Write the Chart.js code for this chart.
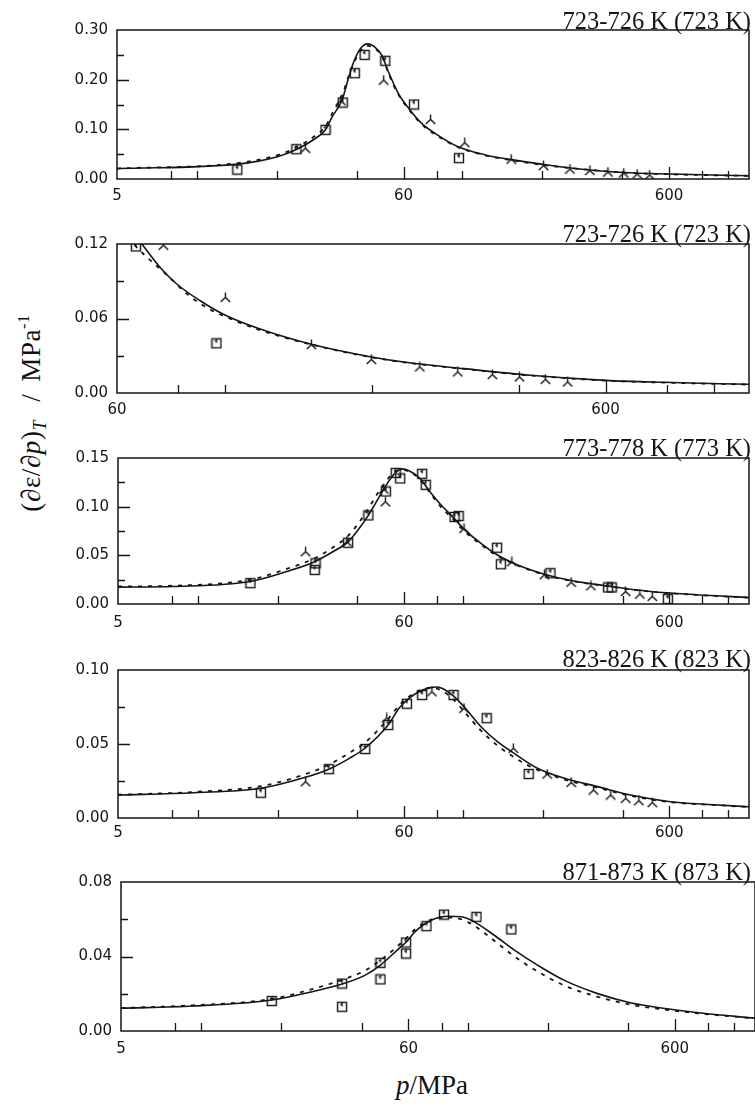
<!DOCTYPE html>
<html>
<head>
<meta charset="utf-8">
<script src="https://cdn.jsdelivr.net/npm/chart.js@4.4.1/dist/chart.umd.min.js"></script>
<style>
  html, body { margin: 0; padding: 0; background: #fff; width: 755px; height: 1107px; overflow: hidden; }
  body { position: relative; }
  canvas { position: absolute; left: 0; }
  #yTitle {
    position: absolute; left: 33px; top: 413px;
    transform: translate(-50%, -50%) rotate(-90deg);
    font: 27px "Liberation Serif", serif; color: #111; white-space: nowrap; letter-spacing: 0.6px;
  }
  #yTitle sub { font-size: 18px; vertical-align: -6px; }
  #yTitle sup { font-size: 16px; vertical-align: 11px; }
  #yTitle .slash { margin: 0 12px 0 18px; }
  #xTitle {
    position: absolute; left: 432px; top: 1085px;
    transform: translate(-50%, -50%);
    font: 27px "Liberation Serif", serif; color: #111; white-space: nowrap;
  }
</style>
</head>
<body>
<div id="yTitle">(∂ε/∂<i>p</i>)<sub><i>T</i></sub><span class="slash">/</span>MPa<sup>-1</sup></div>
<div id="xTitle"><i>p</i>/MPa</div>
<script>
// [p / MPa, (de/dp)_T / MPa^-1]
const p1Squares = [[14.2, 0.019], [23.7, 0.060], [30.5, 0.099], [35.4, 0.154], [39.3, 0.213], [42.8, 0.250], [51.2, 0.238], [65.7, 0.150], [97, 0.042]];
const p1Tris = [[25.6, 0.062], [34.8, 0.158], [50.5, 0.199], [75.8, 0.120], [102, 0.073], [152.6, 0.040], [202, 0.027], [254, 0.020], [302, 0.017], [353, 0.014], [405, 0.012], [455, 0.010], [507, 0.008]];
const p1Solid = [[5, 0.021], [14.2, 0.030], [20.1, 0.045], [23.8, 0.060], [28, 0.082], [30.5, 0.099], [32.3, 0.125], [35.2, 0.159], [37.3, 0.205], [38.9, 0.235], [41.2, 0.262], [44, 0.272], [46.9, 0.265], [49.7, 0.249], [52.7, 0.215], [57.4, 0.172], [62.6, 0.143], [70.2, 0.112], [78.8, 0.092], [96.3, 0.065], [121, 0.049], [152.6, 0.039], [203, 0.029], [256, 0.022], [405, 0.013], [606, 0.010], [1200, 0.0066]];
const p1Dashed = [[5, 0.021], [14.2, 0.032], [20.1, 0.048], [23.8, 0.064], [28, 0.088], [30.5, 0.106], [32.3, 0.132], [35.2, 0.168], [37.3, 0.208], [39.5, 0.240], [41.5, 0.260], [44, 0.268], [47, 0.262], [50, 0.245], [52.7, 0.212], [57.4, 0.170], [62.6, 0.141], [70.2, 0.110], [78.8, 0.090], [96.3, 0.064], [121, 0.048], [152.6, 0.038], [203, 0.028], [256, 0.022], [405, 0.013], [606, 0.0095], [1200, 0.0063]];

const p2Squares = [[65.6, 0.118], [95.9, 0.040]];
const p2Tris = [[74.7, 0.119], [100, 0.077], [150, 0.039], [199, 0.027], [250, 0.021], [299, 0.017], [352, 0.0148], [400, 0.0129], [452, 0.011], [502, 0.0089]];
const p2Solid = [[63, 0.133], [67.4, 0.120], [73.4, 0.1015], [79.4, 0.088], [88.5, 0.0747], [100, 0.0626], [117, 0.0519], [150, 0.0392], [199, 0.029], [236, 0.0245], [308, 0.0196], [421, 0.0143], [600, 0.0102], [786, 0.0086], [1180, 0.007]];
const p2Dashed = [[63, 0.125], [68.4, 0.111], [75.9, 0.095], [83.9, 0.079], [92.3, 0.068], [100, 0.0615], [117, 0.051], [150, 0.039], [199, 0.0288], [236, 0.0243], [308, 0.0194], [421, 0.0141], [600, 0.0100], [786, 0.0084], [1180, 0.0068]];

const p3Squares = [[15.8, 0.0214], [27.8, 0.0418], [27.6, 0.035], [36.9, 0.0629], [44, 0.091], [51.2, 0.1156], [55.8, 0.1347], [58, 0.129], [70.2, 0.1337], [72.4, 0.1224], [93, 0.0894], [96.3, 0.0904], [134.5, 0.0578], [139, 0.0408], [214, 0.0316], [353, 0.017], [364, 0.017], [593, 0.0051]];
const p3Tris = [[25.5, 0.0537], [36.5, 0.064], [51, 0.105], [50.3, 0.118], [101, 0.0775], [153, 0.0435], [203, 0.030], [256, 0.0224], [304, 0.0187], [411, 0.0129], [465, 0.0102], [518, 0.0078]];
const p3Solid = [[5, 0.0173], [8.1, 0.018], [15.8, 0.0231], [21.6, 0.0333], [27.6, 0.0435], [32.3, 0.0537], [36.9, 0.0639], [40.6, 0.0776], [44, 0.0911], [48.3, 0.1098], [52.7, 0.1268], [55.8, 0.1353], [59, 0.1388], [62.6, 0.137], [68.3, 0.130], [74.8, 0.116], [81.3, 0.104], [91.1, 0.090], [101, 0.077], [117, 0.0622], [135, 0.0503], [161, 0.0401], [203, 0.0306], [256, 0.0241], [340, 0.019], [510, 0.0129], [763, 0.0095], [1200, 0.0067]];
const p3Dashed = [[5, 0.018], [8.1, 0.0188], [15.8, 0.025], [21.6, 0.036], [27.6, 0.047], [32.3, 0.058], [36.9, 0.070], [40.6, 0.084], [44, 0.098], [48.3, 0.116], [52.7, 0.130], [55.8, 0.136], [59, 0.138], [62.6, 0.136], [68.3, 0.129], [74.8, 0.115], [81.3, 0.102], [91.1, 0.088], [101, 0.075], [117, 0.061], [135, 0.0495], [161, 0.0395], [203, 0.030], [256, 0.0238], [340, 0.0188], [510, 0.0127], [763, 0.0093], [1200, 0.0065]];

const p4Squares = [[17.3, 0.0171], [31.2, 0.033], [42.8, 0.0466], [52.3, 0.0628], [61.5, 0.0772], [70.2, 0.0831], [92.2, 0.0831], [122.9, 0.0674], [177, 0.0297]];
const p4Tris = [[25.5, 0.0245], [51.6, 0.0676], [76.4, 0.0853], [101, 0.0741], [155, 0.0471], [208, 0.0297], [256, 0.024], [311, 0.0189], [361, 0.0155], [411, 0.0133], [461, 0.0117], [518, 0.0104]];
const p4Solid = [[5, 0.0155], [9.65, 0.0171], [17.3, 0.0201], [24.9, 0.027], [31.2, 0.033], [37.3, 0.0403], [42.8, 0.0473], [52.3, 0.063], [57.4, 0.0741], [62.6, 0.0809], [68.3, 0.0853], [75.6, 0.0881], [79, 0.0885], [83.3, 0.0877], [92.2, 0.0824], [101, 0.0752], [117, 0.0617], [135, 0.0516], [156, 0.0437], [191, 0.0336], [241.6, 0.0268], [322, 0.0212], [429, 0.0155], [606, 0.0110], [881, 0.009], [1200, 0.0076]];
const p4Dashed = [[5, 0.0157], [9.65, 0.0176], [17.3, 0.0215], [24.9, 0.029], [31.2, 0.036], [37.3, 0.044], [42.8, 0.051], [52.3, 0.067], [57.4, 0.076], [62.6, 0.082], [68.3, 0.086], [75.6, 0.088], [83.3, 0.086], [92.2, 0.080], [101, 0.072], [117, 0.059], [135, 0.049], [156, 0.041], [191, 0.0325], [241.6, 0.026], [322, 0.0205], [429, 0.015], [606, 0.0107], [881, 0.0088], [1200, 0.0074]];

const p5Squares = [[18.4, 0.0161], [33.8, 0.0255], [33.8, 0.013], [47.1, 0.0366], [47.1, 0.0277], [58.8, 0.0475], [58.8, 0.0416], [70.1, 0.0563], [81.6, 0.0625], [108, 0.0613], [146, 0.0545]];
const p5Tris = [];
const p5Solid = [[5, 0.0122], [9.3, 0.0134], [18.4, 0.0166], [26.1, 0.0211], [33.8, 0.0252], [41.3, 0.030], [47.1, 0.0354], [55, 0.044], [59, 0.0479], [63.4, 0.0532], [73.1, 0.0595], [84.5, 0.0616], [94.7, 0.0613], [106, 0.0586], [126, 0.0514], [150, 0.0434], [183, 0.0354], [230, 0.0273], [306, 0.0202], [408, 0.0152], [543, 0.0122], [766, 0.0095], [1200, 0.0069]];
const p5Dashed = [[5, 0.0123], [9.3, 0.0138], [18.4, 0.0172], [26.1, 0.0225], [33.8, 0.0275], [41.3, 0.0325], [47.1, 0.038], [53.6, 0.0445], [59, 0.050], [63.4, 0.0545], [73.1, 0.0598], [84.5, 0.0610], [94.7, 0.0600], [106, 0.0565], [126, 0.0485], [150, 0.040], [183, 0.032], [230, 0.0245], [306, 0.0185], [408, 0.0142], [543, 0.0116], [766, 0.0092], [1200, 0.0068]];

// axis ticks
const xTicksWide = [5, 8, 10, 20, 40, 60, 80, 100, 200, 400, 600, 800, 1000];
const xLabelsWide = [5, 60, 600];
const xTicksNarrow = [60, 80, 100, 200, 400, 600, 800, 1000];
const xLabelsNarrow = [60, 600];

const p1YTicks = [0, 0.05, 0.10, 0.15, 0.20, 0.25, 0.30];
const p1YLabels = [0, 0.10, 0.20, 0.30];
const p2YTicks = [0, 0.03, 0.06, 0.09, 0.12];
const p2YLabels = [0, 0.06, 0.12];
const p3YTicks = [0, 0.025, 0.05, 0.075, 0.10, 0.125, 0.15];
const p3YLabels = [0, 0.05, 0.10, 0.15];
const p4YTicks = [0, 0.025, 0.05, 0.075, 0.10];
const p4YLabels = [0, 0.05, 0.10];
const p5YTicks = [0, 0.02, 0.04, 0.06, 0.08];
const p5YLabels = [0, 0.04, 0.08];

const panelTitles = ['723-726 K (723 K)', '723-726 K (723 K)', '773-778 K (773 K)', '823-826 K (823 K)', '871-873 K (873 K)'];

const ink = '#151515';
const tickFont = { family: 'DejaVu Sans', size: 15 };

const hasValue = (list, v) => list.some((t) => Math.abs(t - v) < 1e-9);
const toXY = (pairs) => pairs.map(([x, y]) => ({ x, y }));

// open square with the little mark inside
const makeSquareMark = () => {
  const c = document.createElement('canvas');
  c.width = 12; c.height = 12;
  const g = c.getContext('2d');
  g.strokeStyle = ink; g.lineWidth = 1.4;
  g.strokeRect(1.5, 1.5, 9, 9);
  g.beginPath();
  g.moveTo(6, 2); g.lineTo(6, 5.5);
  g.moveTo(4.2, 3.6); g.lineTo(6, 3.6);
  g.stroke();
  return c;
};

// upside-down Y marker
const makeTriMark = () => {
  const c = document.createElement('canvas');
  c.width = 11; c.height = 11;
  const g = c.getContext('2d');
  g.strokeStyle = ink; g.lineWidth = 1.4;
  g.beginPath();
  g.moveTo(5.5, 0.5); g.lineTo(5.5, 5.5);
  g.moveTo(0.8, 10); g.lineTo(5.5, 5.5); g.lineTo(10.2, 10);
  g.stroke();
  return c;
};

const squareMark = makeSquareMark();
const triMark = makeTriMark();

const panels = [
  { title: panelTitles[0], squares: p1Squares, tris: p1Tris, solid: p1Solid, dashed: p1Dashed,
    xMin: 5, xMax: 1200, xTicks: xTicksWide, xLabels: xLabelsWide, yMax: 0.30, yTicks: p1YTicks, yLabels: p1YLabels,
    box: { left: 117, right: 753, top: 30, bottom: 179 }, labelGap: 8, titleBase: 1 },
  { title: panelTitles[1], squares: p2Squares, tris: p2Tris, solid: p2Solid, dashed: p2Dashed,
    xMin: 60, xMax: 1180, xTicks: xTicksNarrow, xLabels: xLabelsNarrow, yMax: 0.12, yTicks: p2YTicks, yLabels: p2YLabels,
    box: { left: 117, right: 753, top: 244, bottom: 393 }, labelGap: 8, titleBase: 2 },
  { title: panelTitles[2], squares: p3Squares, tris: p3Tris, solid: p3Solid, dashed: p3Dashed,
    xMin: 5, xMax: 1200, xTicks: xTicksWide, xLabels: xLabelsWide, yMax: 0.15, yTicks: p3YTicks, yLabels: p3YLabels,
    box: { left: 118, right: 753, top: 458, bottom: 604 }, labelGap: 10, titleBase: 2 },
  { title: panelTitles[3], squares: p4Squares, tris: p4Tris, solid: p4Solid, dashed: p4Dashed,
    xMin: 5, xMax: 1200, xTicks: xTicksWide, xLabels: xLabelsWide, yMax: 0.10, yTicks: p4YTicks, yLabels: p4YLabels,
    box: { left: 118, right: 753, top: 670, bottom: 818 }, labelGap: 6, titleBase: 3 },
  { title: panelTitles[4], squares: p5Squares, tris: p5Tris, solid: p5Solid, dashed: p5Dashed,
    xMin: 5, xMax: 1200, xTicks: xTicksWide, xLabels: xLabelsWide, yMax: 0.08, yTicks: p5YTicks, yLabels: p5YLabels,
    box: { left: 121, right: 759, top: 882, bottom: 1031 }, labelGap: 9, titleBase: 2 },
];

const topRoom = 36;
const bottomRoom = 32;
const rightRoom = 2;

// box, inward tick marks and the temperature label
const framePlugin = {
  id: 'frame',
  afterDraw(chart) {
    const panel = chart.config.options.plugins.frame;
    const { ctx, chartArea: a, scales } = chart;
    ctx.save();
    ctx.strokeStyle = ink;
    ctx.lineWidth = 1.5;
    ctx.strokeRect(a.left, a.top, a.right - a.left, a.bottom - a.top);

    ctx.lineWidth = 1.3;
    ctx.beginPath();
    panel.xTicks.forEach((v) => {
      const x = Math.round(scales.x.getPixelForValue(v)) + 0.5;
      if (x <= a.left + 1 || x >= a.right - 1) return;
      const len = hasValue(panel.xLabels, v) ? 12 : 8;
      ctx.moveTo(x, a.bottom);
      ctx.lineTo(x, a.bottom - len);
    });
    panel.yTicks.forEach((v) => {
      const y = Math.round(scales.y.getPixelForValue(v)) + 0.5;
      if (y <= a.top + 1 || y >= a.bottom - 1) return;
      const len = hasValue(panel.yLabels, v) ? 12 : 7;
      ctx.moveTo(a.left, y);
      ctx.lineTo(a.left + len, y);
    });
    ctx.stroke();

    ctx.fillStyle = ink;
    ctx.font = '24.5px "Liberation Serif"';
    ctx.textAlign = 'right';
    ctx.textBaseline = 'alphabetic';
    ctx.fillText(panel.title, 751, a.top - panel.titleBase);
    ctx.restore();
  },
};

const drawPanel = (panel) => {
  const w = panel.box.right + rightRoom;
  const h = panel.box.bottom - panel.box.top + topRoom + bottomRoom;
  const canvas = document.createElement('canvas');
  canvas.width = w;
  canvas.height = h;
  canvas.style.width = w + 'px';
  canvas.style.height = h + 'px';
  canvas.style.top = (panel.box.top - topRoom) + 'px';
  document.body.appendChild(canvas);

  const markerSet = (data, mark) => ({
    data: toXY(data),
    pointStyle: mark,
    pointRadius: 5,
    pointHoverRadius: 5,
    showLine: false,
  });

  new Chart(canvas, {
    type: 'scatter',
    data: {
      datasets: [
        markerSet(panel.squares, squareMark),
        markerSet(panel.tris, triMark),
        {
          data: toXY(panel.solid),
          showLine: true,
          borderColor: ink,
          borderWidth: 1.6,
          pointRadius: 0,
          cubicInterpolationMode: 'monotone',
        },
        {
          data: toXY(panel.dashed),
          showLine: true,
          borderColor: ink,
          borderWidth: 1.8,
          borderDash: [4, 6],
          pointRadius: 0,
          cubicInterpolationMode: 'monotone',
        },
      ],
    },
    options: {
      responsive: false,
      animation: false,
      devicePixelRatio: 1,
      layout: { padding: { top: topRoom, right: rightRoom, left: 0, bottom: 0 } },
      plugins: {
        legend: { display: false },
        tooltip: { enabled: false },
        frame: panel,
      },
      scales: {
        x: {
          type: 'logarithmic',
          min: panel.xMin,
          max: panel.xMax,
          grid: { display: false, drawTicks: false },
          border: { display: false },
          afterBuildTicks: (s) => { s.ticks = panel.xTicks.map((v) => ({ value: v })); },
          afterFit: (s) => { s.height = bottomRoom; },
          ticks: {
            autoSkip: false,
            maxRotation: 0,
            padding: panel.labelGap,
            color: ink,
            font: tickFont,
            callback: (v) => (hasValue(panel.xLabels, v) ? String(v) : ''),
          },
        },
        y: {
          min: 0,
          max: panel.yMax,
          grid: { display: false, drawTicks: false },
          border: { display: false },
          afterBuildTicks: (s) => { s.ticks = panel.yTicks.map((v) => ({ value: v })); },
          afterFit: (s) => { s.width = panel.box.left; },
          ticks: {
            padding: 9,
            color: ink,
            font: tickFont,
            callback: (v) => (hasValue(panel.yLabels, v) ? v.toFixed(2) : ''),
          },
        },
      },
    },
    plugins: [framePlugin],
  });
};

panels.forEach(drawPanel);
</script>
</body>
</html>
